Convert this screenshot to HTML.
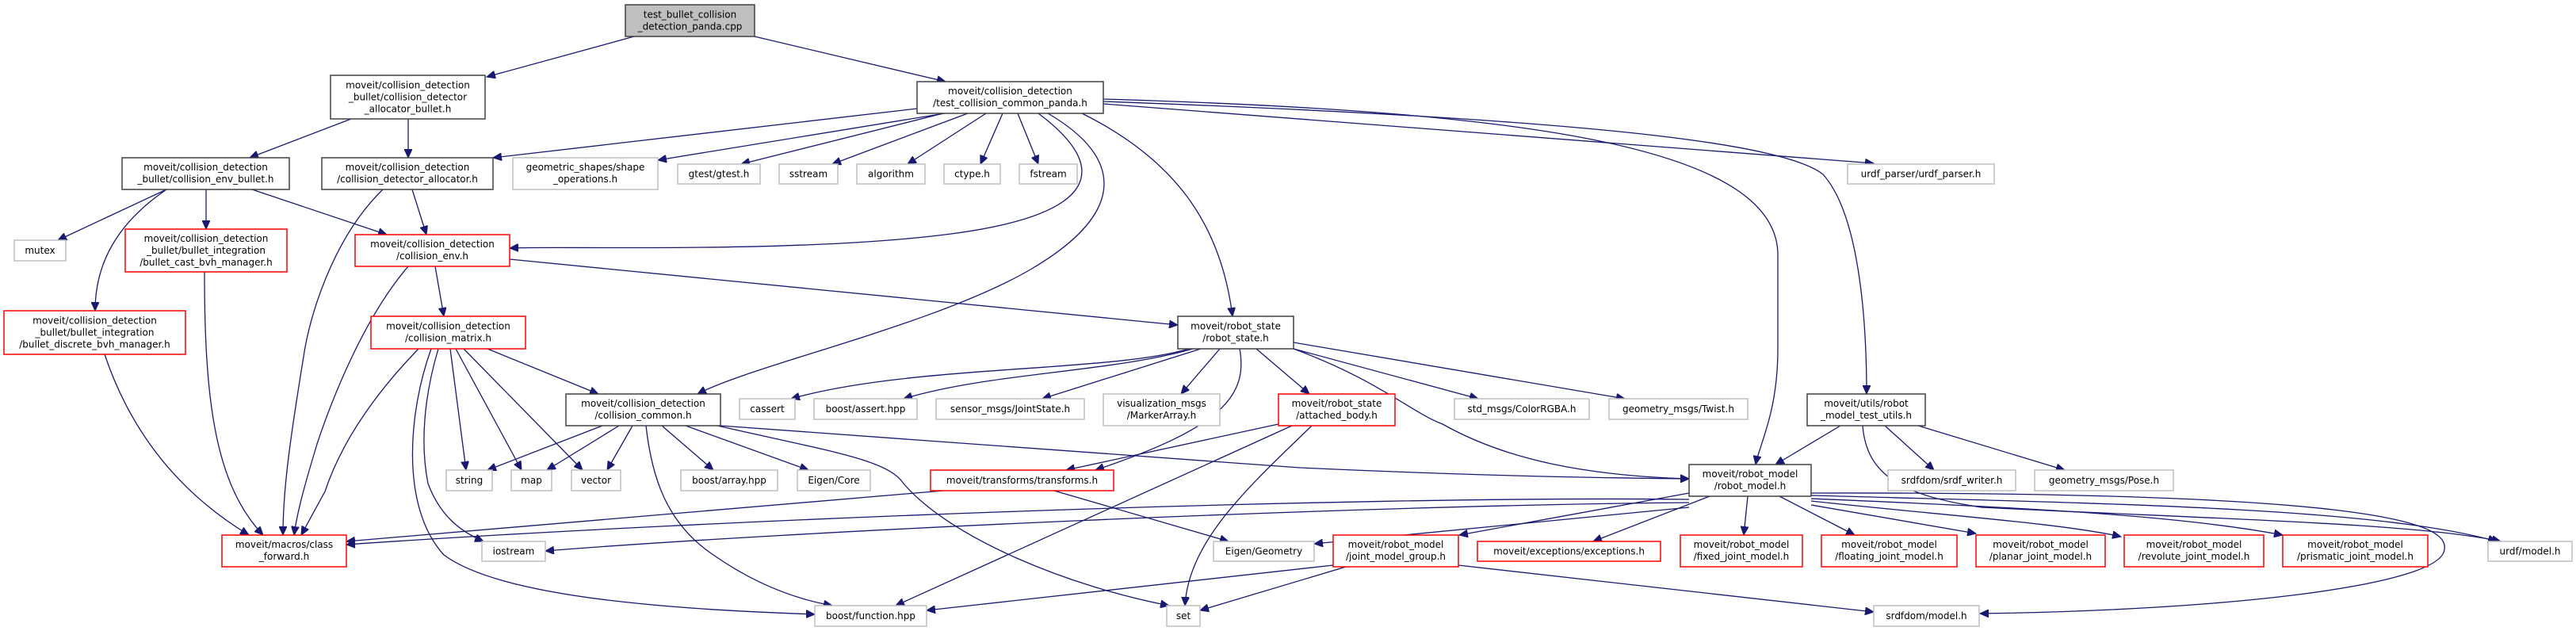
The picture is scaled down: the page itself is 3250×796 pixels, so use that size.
<!DOCTYPE html>
<html><head><meta charset="utf-8"><style>
html,body{margin:0;padding:0;background:#fff;}
svg{display:block;}
text{font-family:"DejaVu Sans","Liberation Sans",sans-serif;font-size:12px;fill:#000;text-anchor:middle;}
.e{fill:none;stroke:#191970;stroke-width:1.3;marker-end:url(#a);}
.k{fill:#fff;stroke:#404040;stroke-width:1.5;}
.g{fill:#fff;stroke:#bfbfbf;stroke-width:1.5;}
.r{fill:#fff;stroke:#ff0000;stroke-width:1.5;}
.t{fill:#bfbfbf;stroke:#404040;stroke-width:1.5;}
</style></head><body>
<svg width="3250" height="796" viewBox="0 0 3250 796" xmlns="http://www.w3.org/2000/svg">
<defs><marker id="a" markerUnits="userSpaceOnUse" markerWidth="12" markerHeight="10" refX="11" refY="5" orient="auto"><path d="M0,0 L11,5 L0,10 z" fill="#191970" stroke="#191970"/></marker></defs>
<g>
<path class="e" d="M800,46 L614,97"/>
<path class="e" d="M952,46 L1193,103"/>
<path class="e" d="M443,150 L315,199"/>
<path class="e" d="M515,150 L515,199"/>
<path class="e" d="M1157,137 L622,199"/>
<path class="e" d="M1192,143 L830,202"/>
<path class="e" d="M1190,143 L935,207"/>
<path class="e" d="M1221,143 L1050,207"/>
<path class="e" d="M1244,143 L1145,207"/>
<path class="e" d="M1265,143 L1237,207"/>
<path class="e" d="M1284,143 L1310,207"/>
<path class="e" d="M1310,143 C1400,210 1390,270 1200,295 S700,310 643,313"/>
<path class="e" d="M1322,143 C1420,200 1420,270 1300,340 S950,460 880,497"/>
<path class="e" d="M1365,143 C1480,200 1540,280 1555,399"/>
<path class="e" d="M1392,125 C1900,140 2240,180 2243,320 L2243,440 C2243,520 2220,560 2215,586"/>
<path class="e" d="M1392,128 C2000,150 2250,180 2300,220 C2345,270 2355,400 2355,497"/>
<path class="e" d="M1392,131 L2364,206"/>
<path class="e" d="M210,239 L73,303"/>
<path class="e" d="M210,239 C150,280 120,330 120,392"/>
<path class="e" d="M260,239 L260,289"/>
<path class="e" d="M318,239 L488,296"/>
<path class="e" d="M520,239 L538,296"/>
<path class="e" d="M483,239 C420,300 390,400 383,450 C365,560 357,620 357,675"/>
<path class="e" d="M258,343 C258,500 270,610 332,675"/>
<path class="e" d="M132,447 C170,560 240,630 314,675"/>
<path class="e" d="M549,336 L560,399"/>
<path class="e" d="M515,336 C460,400 420,500 400,560 C385,610 375,645 371,675"/>
<path class="e" d="M643,327 L1486,410"/>
<path class="e" d="M528,440 C470,500 430,560 410,620 L380,675"/>
<path class="e" d="M568,440 L588,593"/>
<path class="e" d="M575,440 L658,593"/>
<path class="e" d="M585,440 L735,593"/>
<path class="e" d="M615,440 L755,497"/>
<path class="e" d="M553,440 C535,500 530,560 540,610 C555,650 580,670 610,683"/>
<path class="e" d="M544,440 C515,520 505,640 560,700 C640,760 900,770 1028,775"/>
<path class="e" d="M760,537 L615,593"/>
<path class="e" d="M781,537 L690,593"/>
<path class="e" d="M798,537 L766,593"/>
<path class="e" d="M835,537 L900,593"/>
<path class="e" d="M865,537 L1020,593"/>
<path class="e" d="M905,537 C1050,570 1120,580 1140,610 C1200,680 1350,740 1475,764"/>
<path class="e" d="M815,537 C822,600 840,660 900,700 C950,735 1000,755 1050,764"/>
<path class="e" d="M909,537 L1640,590 Q1900,602 2131,604"/>
<path class="e" d="M2131,630 C1700,625 900,655 437,687"/>
<path class="e" d="M2131,634 C1700,638 1000,670 688,695"/>
<path class="e" d="M1500,440 C1400,470 1150,460 998,503"/>
<path class="e" d="M1505,440 C1400,470 1250,470 1140,503"/>
<path class="e" d="M1515,440 L1315,503"/>
<path class="e" d="M1539,440 L1490,497"/>
<path class="e" d="M1564,440 C1575,500 1540,540 1382,593"/>
<path class="e" d="M1585,440 L1652,497"/>
<path class="e" d="M1632,440 L1865,503"/>
<path class="e" d="M1632,432 L2050,503"/>
<path class="e" d="M1632,440 C1740,480 1780,520 1820,535 C1900,580 2000,600 2131,604"/>
<path class="e" d="M1613,535 L1345,593"/>
<path class="e" d="M1630,537 L1130,764"/>
<path class="e" d="M1655,537 C1580,610 1500,680 1495,764"/>
<path class="e" d="M1190,619 L437,683"/>
<path class="e" d="M1330,619 L1550,683"/>
<path class="e" d="M2131,640 L1658,686"/>
<path class="e" d="M1682,713 L1169,770"/>
<path class="e" d="M1698,715 L1514,770"/>
<path class="e" d="M1840,713 L2364,772"/>
<path class="e" d="M2131,622 L1841,675"/>
<path class="e" d="M2157,626 L2010,683"/>
<path class="e" d="M2205,626 L2200,675"/>
<path class="e" d="M2245,626 L2340,675"/>
<path class="e" d="M2285,637 L2493,673"/>
<path class="e" d="M2285,632 C2450,650 2600,660 2676,677"/>
<path class="e" d="M2285,629 C2550,640 2750,650 2880,675"/>
<path class="e" d="M2285,625 C2650,635 3000,640 3150,683"/>
<path class="e" d="M2285,622 C3000,620 3090,660 3084,693 C3080,740 2800,770 2498,774"/>
<path class="e" d="M2350,537 C2355,600 2400,625 2500,640 C2800,655 3050,660 3155,683"/>
<path class="e" d="M2322,537 L2240,586"/>
<path class="e" d="M2378,537 L2440,593"/>
<path class="e" d="M2420,537 L2605,593"/>
</g>
<g>
<rect class="t" x="789" y="6" width="163" height="40"/><text x="870.5" y="22.5">test_bullet_collision</text><text x="870.5" y="37.5">_detection_panda.cpp</text>
<rect class="k" x="417" y="95" width="195" height="55"/><text x="514.5" y="111.5">moveit/collision_detection</text><text x="514.5" y="126.5">_bullet/collision_detector</text><text x="514.5" y="141.5">_allocator_bullet.h</text>
<rect class="k" x="1157" y="103" width="235" height="40"/><text x="1274.5" y="119">moveit/collision_detection</text><text x="1274.5" y="134">/test_collision_common_panda.h</text>
<rect class="k" x="154" y="199" width="211" height="40"/><text x="259.5" y="215">moveit/collision_detection</text><text x="259.5" y="230">_bullet/collision_env_bullet.h</text>
<rect class="k" x="406" y="199" width="216" height="40"/><text x="514" y="215">moveit/collision_detection</text><text x="514" y="230">/collision_detector_allocator.h</text>
<rect class="g" x="647" y="199" width="183" height="40"/><text x="738.5" y="215">geometric_shapes/shape</text><text x="738.5" y="230">_operations.h</text>
<rect class="g" x="855" y="207" width="104" height="25"/><text x="907" y="223.5">gtest/gtest.h</text>
<rect class="g" x="983" y="207" width="74" height="25"/><text x="1020" y="223.5">sstream</text>
<rect class="g" x="1081" y="207" width="86" height="25"/><text x="1124" y="223.5">algorithm</text>
<rect class="g" x="1191" y="207" width="71" height="25"/><text x="1226.5" y="223.5">ctype.h</text>
<rect class="g" x="1286" y="207" width="73" height="25"/><text x="1322.5" y="223.5">fstream</text>
<rect class="g" x="2331" y="207" width="185" height="25"/><text x="2423.5" y="223.5">urdf_parser/urdf_parser.h</text>
<rect class="g" x="18" y="303" width="65" height="26"/><text x="50.5" y="320">mutex</text>
<rect class="r" x="158" y="289" width="204" height="54"/><text x="260" y="305">moveit/collision_detection</text><text x="260" y="320">_bullet/bullet_integration</text><text x="260" y="335">/bullet_cast_bvh_manager.h</text>
<rect class="r" x="448" y="296" width="195" height="40"/><text x="545.5" y="312">moveit/collision_detection</text><text x="545.5" y="327">/collision_env.h</text>
<rect class="k" x="1486" y="399" width="146" height="41"/><text x="1559" y="415.5">moveit/robot_state</text><text x="1559" y="430.5">/robot_state.h</text>
<rect class="r" x="5" y="392" width="229" height="55"/><text x="119.5" y="408.5">moveit/collision_detection</text><text x="119.5" y="423.5">_bullet/bullet_integration</text><text x="119.5" y="438.5">/bullet_discrete_bvh_manager.h</text>
<rect class="r" x="468" y="399" width="195" height="41"/><text x="565.5" y="415.5">moveit/collision_detection</text><text x="565.5" y="430.5">/collision_matrix.h</text>
<rect class="k" x="714" y="497" width="195" height="40"/><text x="811.5" y="513">moveit/collision_detection</text><text x="811.5" y="528">/collision_common.h</text>
<rect class="g" x="933" y="503" width="70" height="26"/><text x="968" y="520">cassert</text>
<rect class="g" x="1027" y="503" width="130" height="26"/><text x="1092" y="520">boost/assert.hpp</text>
<rect class="g" x="1181" y="503" width="187" height="26"/><text x="1274.5" y="520">sensor_msgs/JointState.h</text>
<rect class="g" x="1392" y="497" width="147" height="40"/><text x="1465.5" y="513">visualization_msgs</text><text x="1465.5" y="528">/MarkerArray.h</text>
<rect class="r" x="1613" y="497" width="147" height="40"/><text x="1686.5" y="513">moveit/robot_state</text><text x="1686.5" y="528">/attached_body.h</text>
<rect class="g" x="1835" y="503" width="170" height="26"/><text x="1920" y="520">std_msgs/ColorRGBA.h</text>
<rect class="g" x="2030" y="503" width="175" height="26"/><text x="2117.5" y="520">geometry_msgs/Twist.h</text>
<rect class="k" x="2280" y="497" width="149" height="40"/><text x="2354.5" y="513">moveit/utils/robot</text><text x="2354.5" y="528">_model_test_utils.h</text>
<rect class="g" x="563" y="593" width="58" height="26"/><text x="592" y="610">string</text>
<rect class="g" x="645" y="593" width="51" height="26"/><text x="670.5" y="610">map</text>
<rect class="g" x="721" y="593" width="62" height="26"/><text x="752" y="610">vector</text>
<rect class="g" x="859" y="593" width="122" height="26"/><text x="920" y="610">boost/array.hpp</text>
<rect class="g" x="1006" y="593" width="92" height="26"/><text x="1052" y="610">Eigen/Core</text>
<rect class="r" x="1174" y="593" width="231" height="26"/><text x="1289.5" y="610">moveit/transforms/transforms.h</text>
<rect class="g" x="2382" y="593" width="161" height="26"/><text x="2462.5" y="610">srdfdom/srdf_writer.h</text>
<rect class="g" x="2567" y="593" width="175" height="26"/><text x="2654.5" y="610">geometry_msgs/Pose.h</text>
<rect class="k" x="2131" y="586" width="154" height="40"/><text x="2208" y="602">moveit/robot_model</text><text x="2208" y="617">/robot_model.h</text>
<rect class="r" x="280" y="675" width="157" height="40"/><text x="358.5" y="691">moveit/macros/class</text><text x="358.5" y="706">_forward.h</text>
<rect class="g" x="608" y="683" width="80" height="25"/><text x="648" y="699.5">iostream</text>
<rect class="g" x="1531" y="683" width="127" height="25"/><text x="1594.5" y="699.5">Eigen/Geometry</text>
<rect class="r" x="1682" y="675" width="158" height="40"/><text x="1761" y="691">moveit/robot_model</text><text x="1761" y="706">/joint_model_group.h</text>
<rect class="r" x="1864" y="683" width="231" height="25"/><text x="1979.5" y="699.5">moveit/exceptions/exceptions.h</text>
<rect class="r" x="2120" y="675" width="154" height="40"/><text x="2197" y="691">moveit/robot_model</text><text x="2197" y="706">/fixed_joint_model.h</text>
<rect class="r" x="2298" y="675" width="171" height="40"/><text x="2383.5" y="691">moveit/robot_model</text><text x="2383.5" y="706">/floating_joint_model.h</text>
<rect class="r" x="2493" y="675" width="163" height="40"/><text x="2574.5" y="691">moveit/robot_model</text><text x="2574.5" y="706">/planar_joint_model.h</text>
<rect class="r" x="2680" y="675" width="176" height="40"/><text x="2768" y="691">moveit/robot_model</text><text x="2768" y="706">/revolute_joint_model.h</text>
<rect class="r" x="2880" y="675" width="183" height="40"/><text x="2971.5" y="691">moveit/robot_model</text><text x="2971.5" y="706">/prismatic_joint_model.h</text>
<rect class="g" x="3139" y="683" width="106" height="25"/><text x="3192" y="699.5">urdf/model.h</text>
<rect class="g" x="1028" y="764" width="141" height="26"/><text x="1098.5" y="781">boost/function.hpp</text>
<rect class="g" x="1472" y="764" width="42" height="26"/><text x="1493" y="781">set</text>
<rect class="g" x="2364" y="764" width="133" height="26"/><text x="2430.5" y="781">srdfdom/model.h</text>
</g>
</svg>
</body></html>
